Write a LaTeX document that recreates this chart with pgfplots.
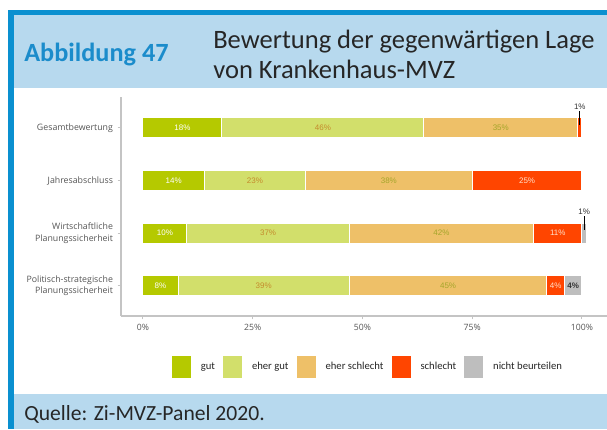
\documentclass[border=0pt]{standalone}
\usepackage{fontspec}
\setmainfont{Carlito}
\newfontfamily\osans{Open Sans}
\newfontfamily\lsans{Liberation Sans}
\usepackage{pgfplots}
\pgfplotsset{compat=1.18}

\definecolor{frameblue}{HTML}{0A90D0}
\definecolor{bandblue}{HTML}{B7D9EE}
\definecolor{headblue}{HTML}{1B8CCB}
\definecolor{cGut}{HTML}{B5C900}
\definecolor{cEherGut}{HTML}{D2DF6B}
\definecolor{cEherSchlecht}{HTML}{EEC068}
\definecolor{cSchlecht}{HTML}{FF4500}
\definecolor{cNicht}{HTML}{BEBEBE}
\definecolor{axisgray}{HTML}{C4C4C4}
\definecolor{ticktext}{HTML}{555555}
\definecolor{lblEherGut}{HTML}{C48B2C}
\definecolor{lblEherSchlecht}{HTML}{A4A62A}
\definecolor{lblSchlecht}{HTML}{FFE2CC}

% shared geometry of the bar axis and the label overlay
\pgfplotsset{
  panel/.style={
    at={(90.75pt,-237pt)}, anchor=south west,
    scale only axis, width=364.5pt, height=164.25pt,
    xmin=-5, xmax=105.7, ymin=0.42, ymax=4.59,
  },
  barlabel/.style={
    draw=none, mark=none, forget plot,
    nodes near coords, point meta=explicit symbolic,
    nodes near coords align={anchor=center},
    every node near coord/.append style={font=\lsans\fontsize{6}{7}\selectfont, text=#1},
  },
}

\begin{document}
\begin{tikzpicture}
\begin{scope}[x=0.75pt, y=-0.75pt]
  \fill[white] (0,0) rectangle (607,429);
  \fill[frameblue] (8,10) rectangle (607,14.5);
  \fill[frameblue] (8,10) rectangle (13.5,429);
  \fill[bandblue] (13.5,14.5) rectangle (607,88);
  \fill[bandblue] (13.5,394) rectangle (607,429);
  \node[anchor=base west, inner sep=0, font=\fontsize{19.7}{22}\selectfont\bfseries, text=headblue] at (24,61) {Abbildung 47};
  \node[anchor=base west, inner sep=0, font=\fontsize{19.9}{22}\selectfont, text=black!85] at (213,48) {Bewertung der gegenwärtigen Lage};
  \node[anchor=base west, inner sep=0, font=\fontsize{19.9}{22}\selectfont, text=black!85] at (213,78) {von Krankenhaus-MVZ};
  \node[anchor=base west, inner sep=0, font=\fontsize{16.2}{19}\selectfont, text=black!85] at (24,420) {Quelle: Zi-MVZ-Panel 2020.};
\end{scope}

\begin{axis}[
  panel,
  xbar stacked, bar width=15pt,
  axis x line*=bottom, axis y line*=left,
  axis line style={draw=axisgray, line width=0.9pt, -},
  tick style={draw=axisgray, line width=0.75pt},
  major tick length=2.5pt, tick align=outside,
  xtick={0,25,50,75,100},
  xticklabels={0\%,25\%,50\%,75\%,100\%},
  ytick={1,2,3,4},
  yticklabels={{Politisch-strategische\\Planungssicherheit},{Wirtschaftliche\\Planungssicherheit},Jahresabschluss,Gesamtbewertung},
  xticklabel style={font=\osans\fontsize{6.5}{8}\selectfont, text=ticktext},
  yticklabel style={font=\osans\fontsize{6.6}{8.6}\selectfont, text=ticktext, align=right},
  legend columns=5,
  legend style={at={(0.506,-0.233)}, anchor=center, draw=none, fill=none,
    font=\fontsize{8}{9}\selectfont, text=black!85,
    nodes={inner sep=0pt},
    /tikz/every odd column/.append style={column sep=7.5pt},
    /tikz/every even column/.append style={column sep=6pt}},
  legend image code/.code={\fill[#1, draw=none] (0pt,-8.25pt) rectangle (14.25pt,8.25pt);},
]
  \addplot[fill=cGut, draw=white, line width=0.75pt] coordinates {(18,4) (14,3) (10,2) (8,1)};
  \addlegendentry{gut}
  \addplot[fill=cEherGut, draw=white, line width=0.75pt] coordinates {(46,4) (23,3) (37,2) (39,1)};
  \addlegendentry{eher gut}
  \addplot[fill=cEherSchlecht, draw=white, line width=0.75pt] coordinates {(35,4) (38,3) (42,2) (45,1)};
  \addlegendentry{eher schlecht}
  \addplot[fill=cSchlecht, draw=white, line width=0.75pt] coordinates {(1,4) (25,3) (11,2) (4,1)};
  \addlegendentry{schlecht}
  \addplot[fill=cNicht, draw=white, line width=0.75pt] coordinates {(0,4) (0,3) (1,2) (4,1)};
  \addlegendentry{nicht beurteilen}
\end{axis}

% percentage labels at the middle of each segment
\begin{axis}[panel, hide axis, clip=false]
  \addplot[barlabel=white] coordinates {(9,4) [18\%] (7,3) [14\%] (5,2) [10\%] (4,1) [8\%]};
  \addplot[barlabel=lblEherGut] coordinates {(41,4) [46\%] (25.5,3) [23\%] (28.5,2) [37\%] (27.5,1) [39\%]};
  \addplot[barlabel=lblEherSchlecht] coordinates {(81.5,4) [35\%] (56,3) [38\%] (68,2) [42\%] (69.5,1) [45\%]};
  \addplot[barlabel=lblSchlecht] coordinates {(87.5,3) [25\%] (94.5,2) [11\%] (94,1) [4\%]};
  \addplot[barlabel=black!80, every node near coord/.append style={font=\lsans\bfseries\fontsize{6}{7}\selectfont}] coordinates {(98,1) [4\%]};
  % small segments get their label above the bar with a pointer
  \addplot[black, line width=0.9pt, forget plot] coordinates {(99.5,4.32) (99.5,4.06)};
  \addplot[black, line width=0.9pt, forget plot] coordinates {(100.5,2.32) (100.5,2.06)};
  \addplot[barlabel=black!80] coordinates {(99.5,4.41) [1\%] (100.5,2.41) [1\%]};
\end{axis}

\pgfresetboundingbox
\path[use as bounding box] (0,0) rectangle (455.25pt,-321.75pt);
\end{tikzpicture}
\end{document}
